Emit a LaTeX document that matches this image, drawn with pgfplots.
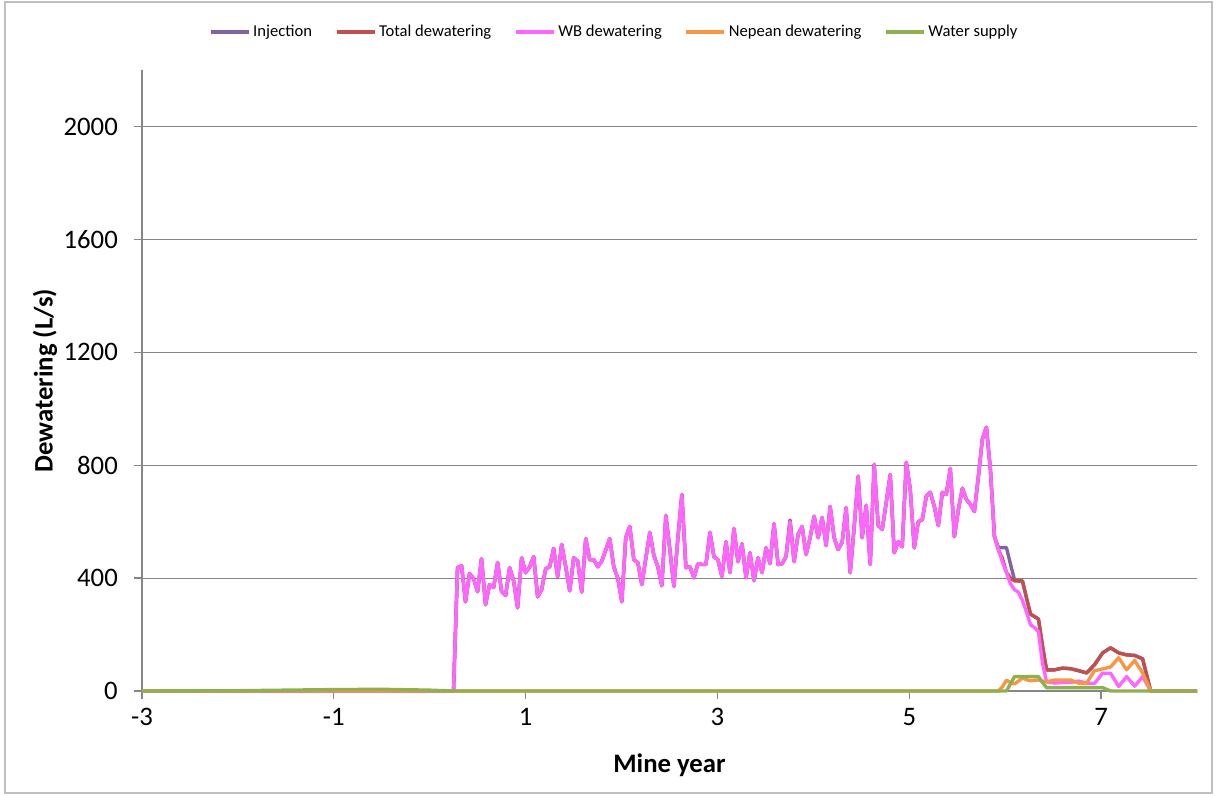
\documentclass[border=0pt]{standalone}
\usepackage{fontspec}
\setmainfont{Carlito}
\usepackage{pgfplots}
\usepackage{pgfplotstable}
\pgfplotsset{compat=1.18}
\definecolor{cInj}{HTML}{8064A2}
\definecolor{cTot}{HTML}{C0504D}
\definecolor{cWB}{HTML}{FF66FF}
\definecolor{cNep}{HTML}{F79646}
\definecolor{cWS}{HTML}{8FB04F}
\definecolor{axgray}{HTML}{868686}
\definecolor{framegray}{HTML}{BFBFBF}
\pgfplotstableread{
x inj tot wb nep ws
-3 0 0 0 0 0
-2 0 0 0 0 1
-1.5 0 0 0 0 3
-1 0 0 0 0 5
-0.5 0 0 0 0 6
0 0 0 0 0 3
0.248 0 0 0 0 0
0.290 437 437 437 0 0
0.332 444 444 444 0 0
0.373 316 316 316 0 0
0.415 416 416 416 0 0
0.457 398 398 398 0 0
0.499 352 352 352 0 0
0.540 469 469 469 0 0
0.582 306 306 306 0 0
0.624 377 377 377 0 0
0.666 366 366 366 0 0
0.708 455 455 455 0 0
0.749 352 352 352 0 0
0.791 338 338 338 0 0
0.833 437 437 437 0 0
0.875 390 390 390 0 0
0.916 295 295 295 0 0
0.958 472 472 472 0 0
1.000 419 419 419 0 0
1.042 440 440 440 0 0
1.084 476 476 476 0 0
1.125 334 334 334 0 0
1.167 359 359 359 0 0
1.209 433 433 433 0 0
1.251 440 440 440 0 0
1.292 505 505 505 0 0
1.334 405 405 405 0 0
1.376 519 519 519 0 0
1.418 440 440 440 0 0
1.460 355 355 355 0 0
1.501 472 472 472 0 0
1.543 460 460 460 0 0
1.585 350 350 350 0 0
1.627 540 540 540 0 0
1.668 465 465 465 0 0
1.710 465 465 465 0 0
1.752 440 440 440 0 0
1.794 460 460 460 0 0
1.836 500 500 500 0 0
1.877 540 540 540 0 0
1.919 440 440 440 0 0
1.961 400 400 400 0 0
2.003 316 316 316 0 0
2.044 543 543 543 0 0
2.086 583 583 583 0 0
2.128 465 465 465 0 0
2.170 455 455 455 0 0
2.212 377 377 377 0 0
2.253 470 470 470 0 0
2.295 562 562 562 0 0
2.337 480 480 480 0 0
2.379 440 440 440 0 0
2.420 373 373 373 0 0
2.462 622 622 622 0 0
2.504 500 500 500 0 0
2.546 370 370 370 0 0
2.587 540 540 540 0 0
2.629 696 696 696 0 0
2.671 437 437 437 0 0
2.713 440 440 440 0 0
2.755 401 401 401 0 0
2.796 451 451 451 0 0
2.838 448 448 448 0 0
2.880 448 448 448 0 0
2.922 562 562 562 0 0
2.963 476 476 476 0 0
3.005 465 465 465 0 0
3.047 405 405 405 0 0
3.089 529 529 529 0 0
3.131 419 419 419 0 0
3.172 576 576 576 0 0
3.214 458 458 458 0 0
3.256 522 522 522 0 0
3.298 401 401 401 0 0
3.339 490 490 490 0 0
3.381 391 391 391 0 0
3.423 472 472 472 0 0
3.465 419 419 419 0 0
3.507 508 508 508 0 0
3.548 451 451 451 0 0
3.590 593 593 593 0 0
3.632 448 448 448 0 0
3.674 451 451 451 0 0
3.715 476 476 476 0 0
3.757 605 605 600 0 0
3.799 458 458 458 0 0
3.841 555 555 555 0 0
3.883 583 583 583 0 0
3.924 483 483 483 0 0
3.966 543 543 543 0 0
4.008 619 619 619 0 0
4.050 543 543 543 0 0
4.091 615 615 615 0 0
4.133 515 515 515 0 0
4.175 654 654 654 0 0
4.217 543 543 543 0 0
4.258 501 501 501 0 0
4.300 526 526 526 0 0
4.342 650 650 650 0 0
4.384 419 419 419 0 0
4.426 583 583 583 0 0
4.467 761 761 761 0 0
4.509 543 543 543 0 0
4.551 658 658 658 0 0
4.593 448 448 448 0 0
4.634 803 803 803 0 0
4.676 586 586 586 0 0
4.718 572 572 572 0 0
4.760 668 668 668 0 0
4.802 767 767 767 0 0
4.843 490 490 490 0 0
4.885 529 529 529 0 0
4.927 511 511 511 0 0
4.969 810 810 810 0 0
5.010 714 714 714 0 0
5.052 507 507 507 0 0
5.094 600 600 600 0 0
5.136 607 607 607 0 0
5.178 690 690 690 0 0
5.219 704 704 704 0 0
5.261 654 654 654 0 0
5.303 586 586 586 0 0
5.345 704 704 704 0 0
5.386 696 696 696 0 0
5.428 788 788 788 0 0
5.470 547 547 547 0 0
5.512 643 643 643 0 0
5.554 718 718 718 0 0
5.595 679 679 679 0 0
5.637 661 661 661 0 0
5.679 636 636 636 0 0
5.721 761 761 761 0 0
5.762 892 892 892 0 0
5.804 934 934 934 0 0
5.846 785 785 785 0 0
5.888 547 547 547 0 0
5.930 508 500 500 0 0
5.971 508 470 458 15 0
6.013 508 420 420 38 0
6.055 450 400 380 30 25
6.097 394 390 359 25 51
6.138 390 390 350 35 51
6.180 390 390 320 46 51
6.222 330 330 280 40 51
6.264 272 272 234 36 51
6.305 264 264 225 38 51
6.347 255 255 210 39 51
6.389 160 160 99 35 30
6.431 75 75 33 32 12
6.514 75 75 28 39 12
6.598 81 81 30 39 12
6.681 79 79 30 39 12
6.765 72 72 35 28 12
6.849 64 64 28 28 12
6.932 93 93 27 72 12
7.016 135 135 63 78 12
7.099 153 153 63 85 0
7.183 135 135 16 118 0
7.266 128 128 51 75 0
7.350 126 126 17 108 0
7.433 114 114 51 64 0
7.517 0 0 0 0 0
8 0 0 0 0 0
}\data
\begin{document}
\begin{tikzpicture}
\begin{axis}[
  scale only axis,
  width=26.375cm, height=15.525cm,
  xmin=-3, xmax=8, ymin=0, ymax=2200,
  xtick={-3,-1,1,3,5,7},
  ytick={0,400,800,1200,1600,2000},
  axis lines=left,
  axis line style={-, draw=axgray, line width=0.9pt},
  tick style={draw=axgray, line width=0.9pt},
  tick align=outside,
  major tick length=0.2cm,
  ymajorgrids,
  grid style={draw=axgray, line width=0.8pt},
  /pgf/number format/assume math mode=true,
  /pgf/number format/1000 sep={},
  ticklabel style={font=\fontsize{19}{22}\selectfont},
  xticklabel style={yshift=-3pt},
  yticklabel style={xshift=-8pt},
  xlabel={\textbf{Mine year}},
  ylabel={\textbf{Dewatering (L/s)}},
  label style={font=\fontsize{19}{22}\selectfont},
  xlabel style={at={(axis description cs:0.5,-0.119)}, anchor=center},
  ylabel style={at={(axis description cs:-0.092,0.5)}, anchor=center, rotate=0},
  clip=false,
  legend columns=5,
  legend style={at={(axis description cs:0.448,1.061)}, anchor=center, draw=none, fill=none,
    font=\fontsize{11.8}{13}\selectfont,
    /tikz/every even column/.append style={column sep=0.5cm}},
  legend image code/.code={\draw[#1] (0cm,0cm) -- (0.95cm,0cm);},
  every axis plot/.append style={line width=2.4pt, line join=round},
]
\addplot[cInj] table[x=x, y=inj] {\data};
\addlegendentry{Injection}
\addplot[cTot] table[x=x, y=tot] {\data};
\addlegendentry{Total dewatering}
\addplot[cWB] table[x=x, y=wb] {\data};
\addlegendentry{WB dewatering}
\addplot[cNep] table[x=x, y=nep] {\data};
\addlegendentry{Nepean dewatering}
\addplot[cWS] table[x=x, y=ws] {\data};
\addlegendentry{Water supply}
\path (axis description cs:-0.13460,-0.16908) rectangle (axis description cs:1.01896,1.11272);
\draw[framegray, line width=0.8pt] (axis description cs:-0.1298,-0.1643) rectangle (axis description cs:1.0142,1.1095);
\end{axis}
\end{tikzpicture}
\end{document}
